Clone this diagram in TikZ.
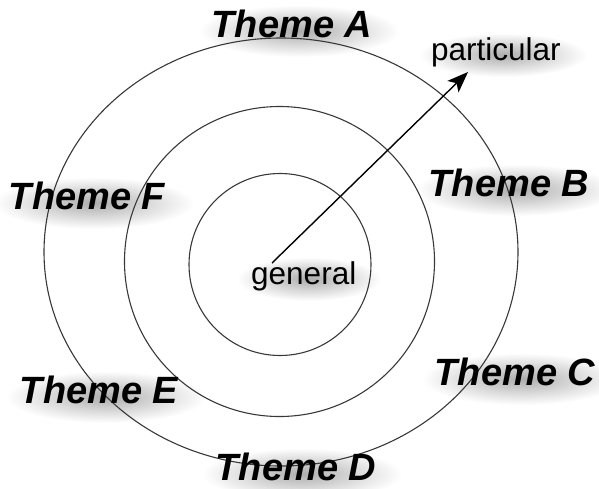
\documentclass[tikz,border=0pt]{standalone}
\usepackage{fontspec}
\setmainfont{Liberation Sans}
\usetikzlibrary{arrows.meta}
\tikzset{
  ring/.style={draw=black!78, line width=1.1pt},
  themetext/.style={font=\fontsize{38}{40}\selectfont\bfseries\itshape, inner sep=0pt, anchor=base},
  plaintext/.style={font=\fontsize{31.5}{34}\selectfont, inner sep=0pt, anchor=base west},
  glow/.style={inner color=black!32, outer color=white},
  dirarrow/.style={draw=black, line width=1.4pt, -{Stealth[length=21pt, width=16pt, inset=5pt]}}
}
\newcommand\glowat[4]{\shade[glow] (#1,#2) ellipse [x radius=#3, y radius=#4];}
\begin{document}
\begin{tikzpicture}[x=1pt, y=-1pt]
\useasboundingbox (0,0) rectangle (599,488);
% soft shadows behind the texts
\glowat{299}{31}{100}{26}
\glowat{516}{190}{100}{26}
\glowat{522}{379}{100}{26}
\glowat{302}{474}{100}{26}
\glowat{106}{397}{100}{26}
\glowat{94}{203}{100}{26}
\glowat{309}{279}{72}{22}
\glowat{503}{55}{84}{22}
% rings
\draw[ring] (281,252) ellipse [x radius=237, y radius=214];
\draw[ring] (279.5,261.5) circle [radius=155];
\draw[ring] (280,264.5) circle [radius=91];
% labels
\node[themetext] (ta) at (292,37) {Theme A};
\node[themetext] (tb) at (509,196) {Theme B};
\node[themetext] (tc) at (515,385) {Theme C};
\node[themetext] (td) at (296,480) {Theme D};
\node[themetext] (te) at (99,403) {Theme E};
\node[themetext] (tf) at (87,209) {Theme F};
\node[plaintext] (gen) at (251,284) {general};
\node[plaintext] (par) at (431,60) {particular};
% arrow
\coordinate (a0) at (272,263);
\coordinate (a1) at (468,72);
\draw[dirarrow] (a0) -- (a1);
\end{tikzpicture}
\end{document}
